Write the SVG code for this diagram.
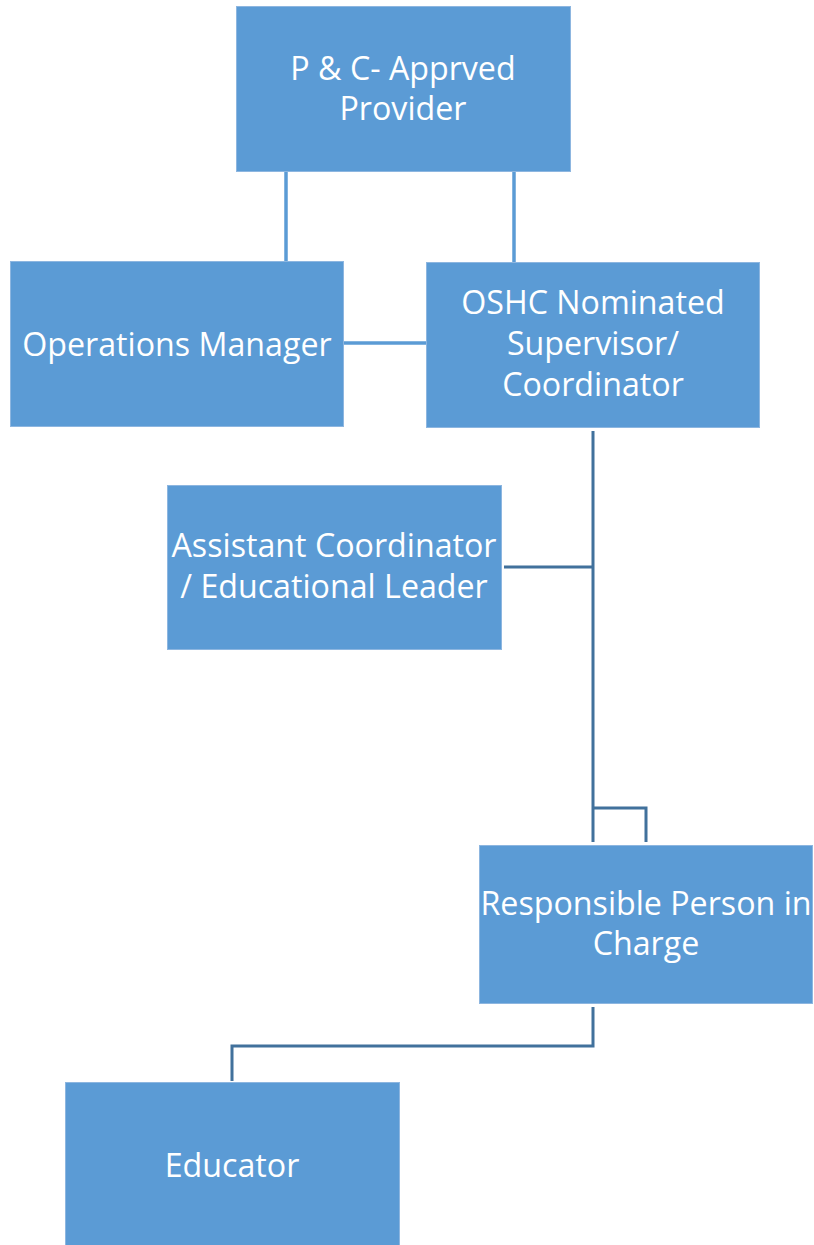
<svg xmlns="http://www.w3.org/2000/svg" width="814" height="1245" viewBox="0 0 814 1245">
<style>
.box{fill:#5B9BD5;stroke:#8DB6E0;stroke-width:1}
.lbl{font-family:"Open Sans","Liberation Sans",sans-serif;font-size:32.2px;fill:#FFFFFF;text-anchor:middle}
.c1{fill:none;stroke:#5B9BD5;stroke-width:3.5}
.c2{fill:none;stroke:#41719C;stroke-width:3}
</style>
<rect width="814" height="1245" fill="#FFFFFF"/>
<g id="connectors">
<path class="c1" d="M286 172V262"/>
<path class="c1" d="M514 172V262"/>
<path class="c1" d="M344 343H426"/>
<path class="c2" d="M593 431V842"/>
<path class="c2" d="M504 567H593"/>
<path class="c2" d="M593 808H646V842"/>
<path class="c2" d="M593 1007V1046H232V1081"/>
</g>
<g id="node-provider">
<rect class="box" x="236.5" y="6.5" width="334" height="165"/>
<text class="lbl" x="403" y="80">P &amp; C- Apprved</text>
<text class="lbl" x="403" y="120">Provider</text>
</g>
<g id="node-operations">
<rect class="box" x="10.5" y="261.5" width="333" height="165"/>
<text class="lbl" x="177" y="356">Operations Manager</text>
</g>
<g id="node-oshc">
<rect class="box" x="426.5" y="262.5" width="333" height="165"/>
<text class="lbl" x="593" y="314">OSHC Nominated</text>
<text class="lbl" x="593" y="355">Supervisor/</text>
<text class="lbl" x="593" y="396">Coordinator</text>
</g>
<g id="node-assistant">
<rect class="box" x="167.5" y="485.5" width="334" height="164"/>
<text class="lbl" x="334" y="557">Assistant Coordinator</text>
<text class="lbl" x="334" y="598">/ Educational Leader</text>
</g>
<g id="node-rpic">
<rect class="box" x="479.5" y="845.5" width="333" height="158"/>
<text class="lbl" x="646" y="915">Responsible Person in</text>
<text class="lbl" x="646" y="955">Charge</text>
</g>
<g id="node-educator">
<rect class="box" x="65.5" y="1082.5" width="334" height="166"/>
<text class="lbl" x="232" y="1177">Educator</text>
</g>
</svg>
